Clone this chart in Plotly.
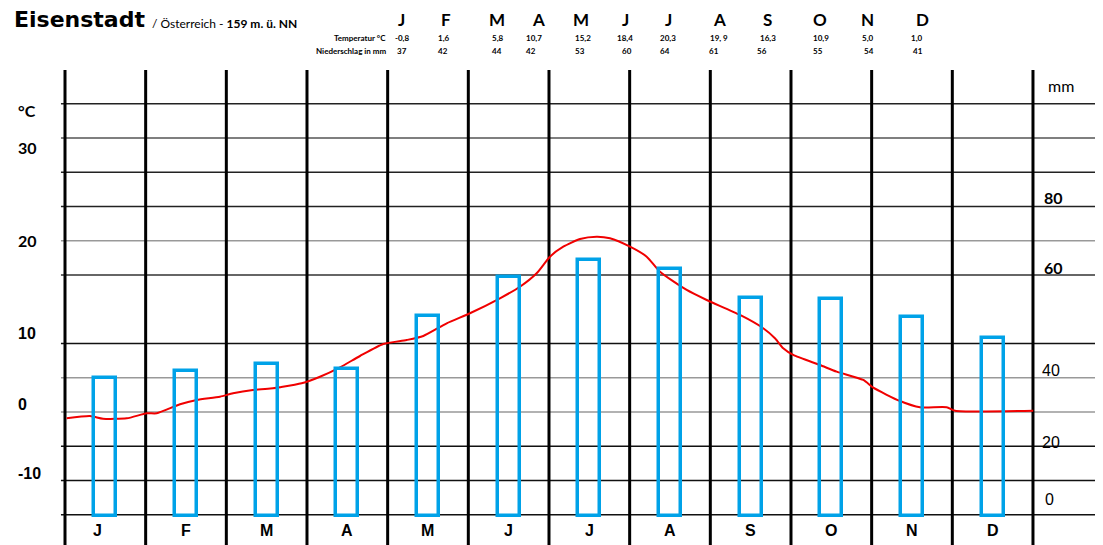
import plotly.graph_objects as go

# ---------------- data ----------------
months = ["J", "F", "M", "A", "M", "J", "J", "A", "S", "O", "N", "D"]
temp_table = ["-0,8", "1,6", "5,8", "10,7", "15,2", "18,4", "20,3", "19, 9", "16,3", "10,9", "5,0", "1,0"]
precip_table = ["37", "42", "44", "42", "53", "60", "64", "61", "56", "55", "54", "41"]

# precipitation bars as drawn (mm)
precip_mm = [34.5, 36.25, 38.0, 36.75, 50.0, 59.75, 64.0, 61.75, 54.5, 54.25, 49.75, 44.5]

# temperature curve as drawn (position in months, °C)
curve_month = [-0.479, -0.190, -0.029, 0.265, 0.513, 0.637, 0.926, 1.133, 1.421, 1.583, 1.830,
               2.078, 2.165, 2.434, 2.661, 2.909, 3.157, 3.446, 3.736, 3.942, 4.232, 4.520,
               4.892, 5.140, 5.347, 5.512, 5.677, 5.884, 6.091, 6.256, 6.504, 6.711, 6.876,
               7.207, 7.455, 7.868, 8.156, 8.301, 8.404, 8.528, 8.859, 9.066, 9.396, 9.520,
               9.851, 10.099, 10.430, 10.533, 11.503]
curve_temp = [-0.74, -0.47, -0.78, -0.74, -0.15, -0.15, 0.90, 1.40, 1.79, 2.18, 2.57,
              2.77, 2.89, 3.35, 4.12, 5.22, 6.54, 7.94, 8.41, 8.88, 10.36, 11.53,
              13.28, 14.63, 16.20, 18.14, 19.31, 20.20, 20.47, 20.29, 19.31, 18.14, 16.39,
              14.25, 13.08, 11.33, 9.78, 8.61, 7.44, 6.66, 5.49, 4.71, 3.74, 2.84,
              1.28, 0.55, 0.55, 0.15, 0.15]

left_labels = ["°C", "30", "20", "10", "0", "-10"]
right_labels = ["mm", "80", "60", "40", "20", "0"]

# ---------------- layout helpers ----------------
# the page places the figure 8 px from the top-left corner of the window
OFF = 8
W, H = 1103 - OFF, 545 - OFF
def px(x):
    return (x - OFF) / W
def py(y):
    return 1 - (y - OFF) / H

BLUE = "#00A2E8"
RED = "#F00000"

fig = go.Figure()

fig.add_trace(go.Bar(
    x=list(range(12)), y=precip_mm, yaxis="y2", width=0.275,
    marker=dict(color="rgba(0,0,0,0)", line=dict(color=BLUE, width=3.5)),
    hoverinfo="skip", showlegend=False,
))
fig.add_trace(go.Scatter(
    x=curve_month, y=curve_temp, mode="lines",
    line=dict(color=RED, width=2, shape="spline", smoothing=0.6),
    hoverinfo="skip", showlegend=False,
))

shapes = []
# horizontal grid lines (temperature units)
grid = [(36, "#222"), (32, "#555"), (28, "#222"), (24, "#222"), (20, "#999"), (16, "#333"),
        (8, "#111"), (4, "#999"), (0, "#999"), (-4, "#111"), (-8, "#111"), (-12, "#111")]
for t, c in grid:
    shapes.append(dict(type="line", xref="x", yref="y", x0=-0.55, x1=12.4, y0=t, y1=t,
                       line=dict(color=c, width=1.5), layer="below"))
# vertical month separators
for k in range(13):
    shapes.append(dict(type="line", xref="x", yref="y", x0=k - 0.5, x1=k - 0.5, y0=-16, y1=39.94,
                       line=dict(color="black", width=3), layer="below"))

ann = []
# title
ann.append(dict(xref="paper", yref="paper", x=px(12), y=py(19), xanchor="left", yanchor="middle",
                text="<b>Eisenstadt</b>", showarrow=False,
                font=dict(family="DejaVu Sans", size=22, color="black")))
ann.append(dict(xref="paper", yref="paper", x=px(150), y=py(23), xanchor="left", yanchor="middle",
                text="/ Österreich - <b>159 m. ü. NN</b>", showarrow=False,
                font=dict(family="Lato", size=12, color="black")))
# table header
head_x = [401, 446, 497, 538, 581, 625, 668, 719, 767, 820, 867, 922]
val_x = [393, 436, 490, 524, 573, 615, 658, 708, 758, 811, 860, 909]
pre_x = [395, 436, 490, 524, 573, 620, 658, 707, 755, 811, 862, 911]
for i in range(12):
    ann.append(dict(xref="paper", yref="paper", x=px(head_x[i]), y=py(19), xanchor="center", yanchor="middle",
                    text="<b>" + months[i] + "</b>", showarrow=False,
                    font=dict(family="Lato", size=17, color="black")))
    ann.append(dict(xref="paper", yref="paper", x=px(val_x[i]), y=py(38), xanchor="left", yanchor="middle",
                    text="<b>" + temp_table[i] + "</b>", showarrow=False,
                    font=dict(family="Lato", size=8, color="black")))
    ann.append(dict(xref="paper", yref="paper", x=px(pre_x[i]), y=py(51), xanchor="left", yanchor="middle",
                    text="<b>" + precip_table[i] + "</b>", showarrow=False,
                    font=dict(family="Lato", size=8, color="black")))
ann.append(dict(xref="paper", yref="paper", x=px(388), y=py(38), xanchor="right", yanchor="middle",
                text="<b>Temperatur °C</b>", showarrow=False, font=dict(family="Lato", size=8, color="black")))
ann.append(dict(xref="paper", yref="paper", x=px(388), y=py(51), xanchor="right", yanchor="middle",
                text="<b>Niederschlag in mm</b>", showarrow=False, font=dict(family="Lato", size=8, color="black")))

# bottom month letters
for i in range(12):
    ann.append(dict(xref="x", yref="paper", x=i - (0.1 if i == 0 else 0), y=py(530), xanchor="center",
                    yanchor="middle", text="<b>" + months[i] + "</b>", showarrow=False,
                    font=dict(family="Liberation Sans", size=16, color="black")))

# left axis labels
left_y = [110, 148, 241, 333, 404, 473]
left_font = ["Lato", "Lato", "Lato", "Liberation Sans", "Liberation Sans", "Liberation Sans"]
for lab, yy, f in zip(left_labels, left_y, left_font):
    ann.append(dict(xref="paper", yref="paper", x=px(16), y=py(yy), xanchor="left", yanchor="middle",
                    text="<b>" + lab + "</b>", showarrow=False, font=dict(family=f, size=16, color="black")))
# right axis labels
right_y = [85, 197, 268, 370, 442, 499]
right_x = [1046, 1042, 1042, 1040, 1040, 1043]
for lab, yy, xx in zip(right_labels, right_y, right_x):
    is_bold = lab in ("80", "60")
    ann.append(dict(xref="paper", yref="paper", x=px(xx), y=py(yy), xanchor="left", yanchor="middle",
                    text=("<b>" + lab + "</b>") if is_bold else lab, showarrow=False,
                    font=dict(family="Lato" if lab in ("mm", "80", "60") else "Liberation Sans",
                              size=16, color="black")))

fig.update_layout(
    width=W, height=H, autosize=False,
    margin=dict(l=0, r=0, t=0, b=0, pad=0),
    paper_bgcolor="white", plot_bgcolor="white",
    xaxis=dict(range=[-1.2066, 12.368], visible=False, fixedrange=True),
    yaxis=dict(range=[-15.533, 47.182], visible=False, fixedrange=True),
    yaxis2=dict(range=[-7.25, 127], overlaying="y", visible=False, fixedrange=True),
    shapes=shapes, annotations=ann, bargap=0,
)

fig.write_html("out.html")
